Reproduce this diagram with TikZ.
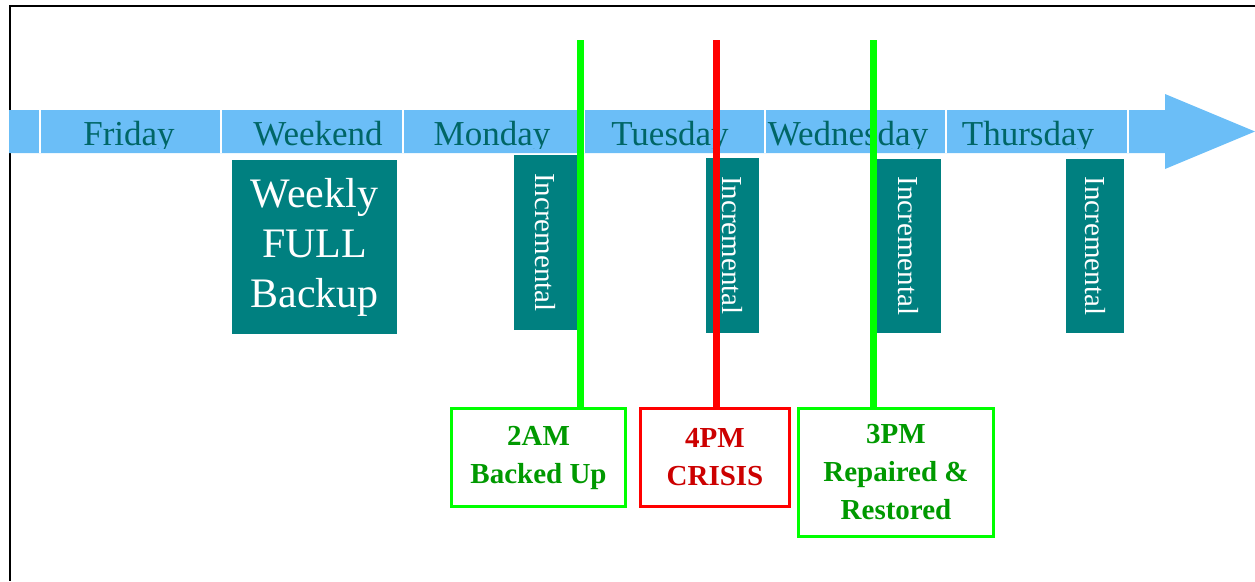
\documentclass[tikz,border=0pt]{standalone}
\usepackage{fontspec}
\setmainfont{Liberation Serif}
\definecolor{bandblue}{HTML}{6BBEF7}
\definecolor{daytext}{HTML}{006666}
\definecolor{tealbox}{HTML}{008080}
\definecolor{okgreen}{HTML}{00FF00}
\definecolor{okgreentext}{HTML}{009900}
\definecolor{crisisred}{HTML}{FF0000}
\definecolor{crisistext}{HTML}{CC0000}
\begin{document}
\begin{tikzpicture}[x=1pt,y=-1pt,
	day/.style={anchor=base,text=daytext,font=\fontsize{35}{40}\selectfont},
	fullbak/.style={fill=tealbox,text=white,align=center,inner sep=0pt,font=\fontsize{42}{50}\selectfont},
	incbak/.style={fill=tealbox,text=white,rotate=-90,inner sep=0pt,font=\fontsize{29}{34}\selectfont},
	eventbox/.style={draw,line width=3pt,fill=white,align=center,inner sep=0pt,font=\bfseries\fontsize{29}{38}\selectfont},
	timeline/.style={line width=7pt}]
	\useasboundingbox (0,0) rectangle (1255,581);
	\draw[line width=2pt] (1255,6) -- (10,6) -- (10,581);
	% the week band
	\fill[bandblue] (9,110) -- (1165,110) -- (1165,94) -- (1255,131.5) -- (1165,169) -- (1165,153) -- (9,153) -- cycle;
	\foreach \x in {40,221,403,584,765,946,1128}
		\draw[white,line width=2pt] (\x,110) -- (\x,153);
	\begin{scope}
		\clip (9,110) rectangle (1165,148);
		\node[day] (fri) at (129,145) {Friday};
		\node[day] (wkd) at (318,145) {Weekend};
		\node[day] (mon) at (492,145) {Monday};
		\node[day] (tue) at (670,145) {Tuesday};
		\node[day] (wed) at (848,145) {Wednesday};
		\node[day] (thu) at (1028,145) {Thursday};
	\end{scope}
	% backups
	\node[fullbak,minimum width=165,minimum height=174] (full) at (314.5,247) {Weekly\\FULL\\Backup};
	\node[incbak,minimum width=175,minimum height=63] (inc1) at (545.5,242.5) {Incremental};
	\node[incbak,minimum width=175,minimum height=53] (inc2) at (732.5,245.5) {Incremental};
	\node[incbak,minimum width=174,minimum height=65] (inc3) at (908.5,246) {Incremental};
	\node[incbak,minimum width=174,minimum height=58] (inc4) at (1095,246) {Incremental};
	% events
	\node[eventbox,draw=okgreen,text=okgreentext,minimum width=174,minimum height=98] (backed) at (538.5,457.5) {2AM\\Backed Up};
	\node[eventbox,draw=crisisred,text=crisistext,minimum width=149,minimum height=98] (crisis) at (715,457.5) {4PM\\CRISIS};
	\node[eventbox,draw=okgreen,text=okgreentext,minimum width=195,minimum height=128] (restored) at (896,472.5) {3PM\\Repaired \&\\Restored};
	\coordinate (t1) at (580,40);
	\coordinate (t2) at (716,40);
	\coordinate (t3) at (873,40);
	\draw[timeline,okgreen] (t1) -- (t1 |- backed.north);
	\draw[timeline,crisisred] (t2) -- (t2 |- crisis.north);
	\draw[timeline,okgreen] (t3) -- (t3 |- restored.north);
\end{tikzpicture}
\end{document}
